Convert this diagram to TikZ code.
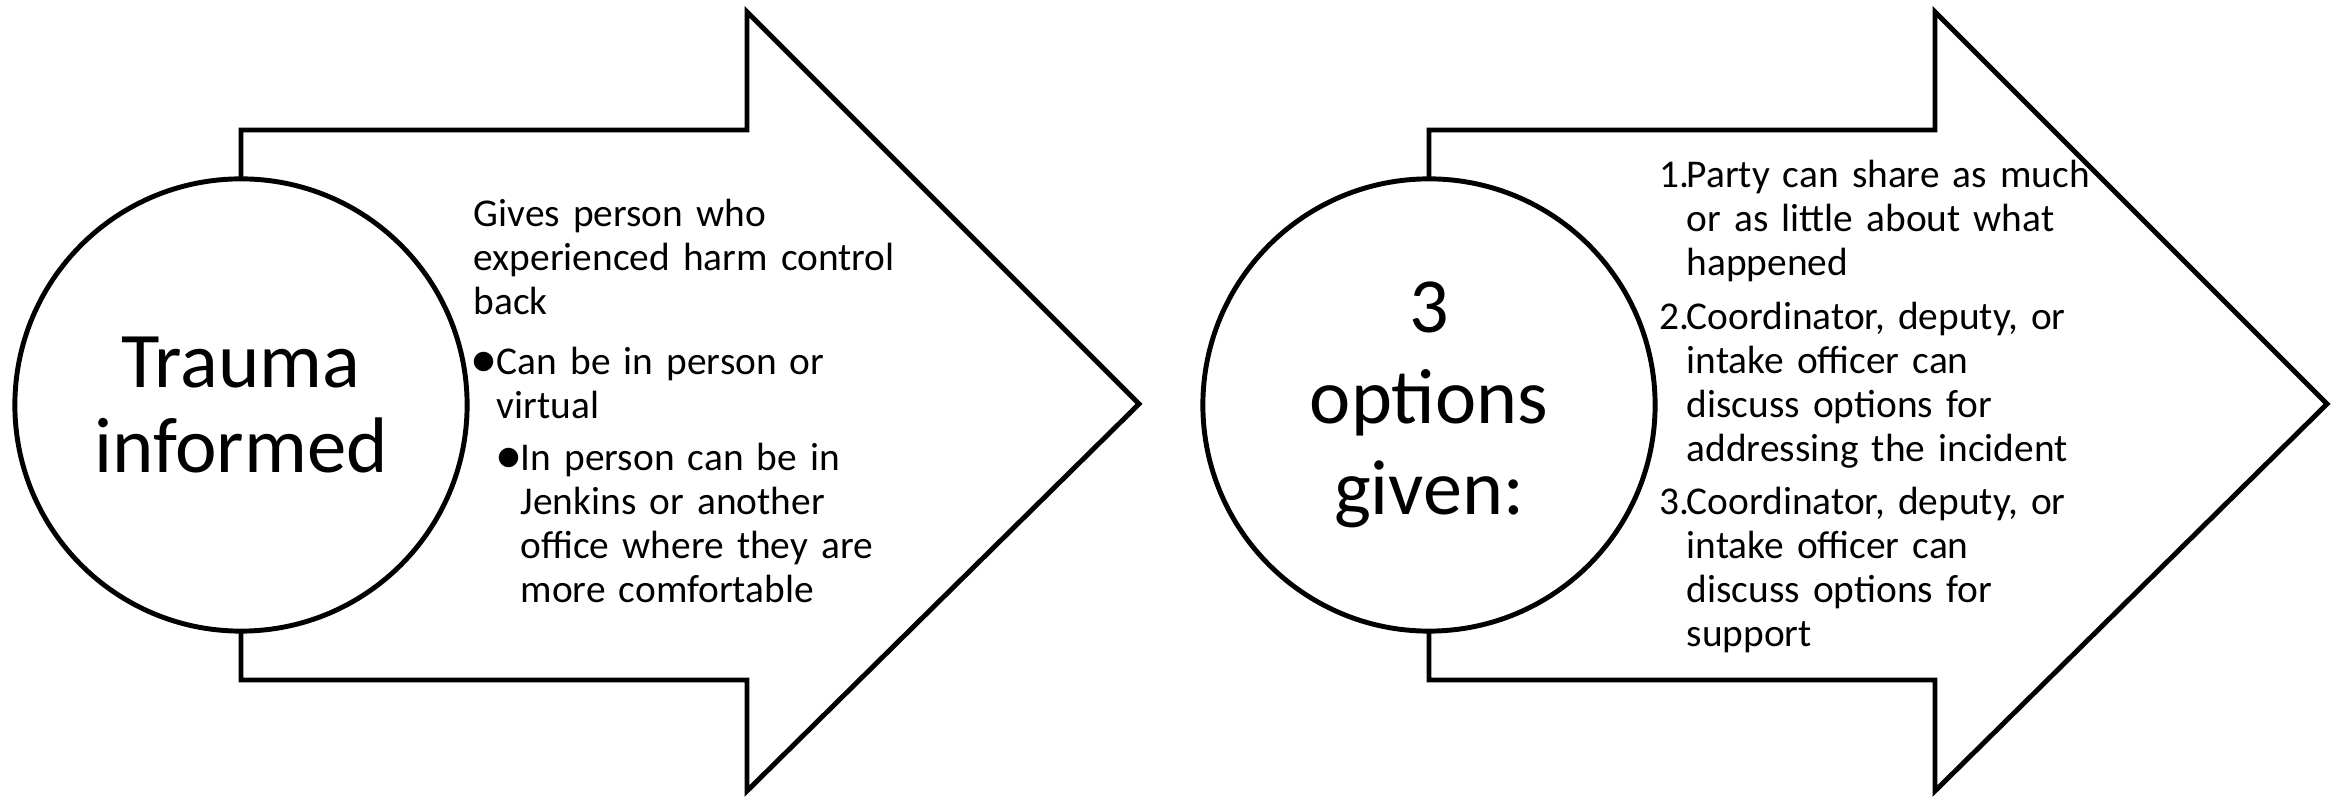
\documentclass[tikz,border=0pt]{standalone}
\usepackage{fontspec}
\setmainfont{Carlito}
\usepackage{tikz}
\newcommand{\itemat}[3]{\setlength{\leftskip}{#1}\leavevmode\llap{\makebox[#2][l]{#3}}}
\newcommand{\dotmark}{\scalebox{1.3}{$\bullet$}}

\begin{document}
\begin{tikzpicture}[x=0.01cm,y=-0.01cm]
  \tikzstyle{outline}=[draw=black,line width=1.4pt,fill=white]
  \tikzstyle{disc}=[circle,outline,minimum size=4.52cm,inner sep=0pt,align=center,font=\fontsize{22.4}{24.4}\selectfont]
  \tikzstyle{bodytext}=[anchor=base west,inner sep=0pt,text width=5cm,align=left,font=\fontsize{11.2}{12.5}\selectfont]
  \useasboundingbox (0,0) rectangle (2341,801);
  % first arrow
  \draw[outline] (241,130) -- (747,130) -- (747,12) -- (1139,404) -- (747,791) -- (747,680) -- (241,680) -- cycle;
  \node[disc] (trauma) at (241,405) {Trauma\\informed};
  \node[bodytext] (traumatext) at (473,227) {Gives person who\\experienced harm control\\back\\[0.16cm]
    \itemat{0.23cm}{0.255cm}{\dotmark}Can be in person or\\virtual\\[0.08cm]
    \itemat{0.47cm}{0.245cm}{\dotmark}In person can be in\\Jenkins or another\\office where they are\\more comfortable\par};
  % second arrow
  \draw[outline] (1429,130) -- (1935,130) -- (1935,12) -- (2327,404) -- (1935,791) -- (1935,680) -- (1429,680) -- cycle;
  \node[disc,font=\fontsize{22.2}{25.9}\selectfont] (options) at (1429,405) {3\\options\\given:};
  \node[bodytext,text width=4.8cm] (optionstext) at (1659,188) {\itemat{0.27cm}{0.27cm}{1.}Party can share as much\\or as little about what\\happened\\[0.095cm]
    \itemat{0.27cm}{0.27cm}{2.}Coordinator, deputy, or\\intake officer can\\discuss options for\\addressing the incident\\[0.095cm]
    \itemat{0.27cm}{0.27cm}{3.}Coordinator, deputy, or\\intake officer can\\discuss options for\\support\par};
\end{tikzpicture}
\end{document}
